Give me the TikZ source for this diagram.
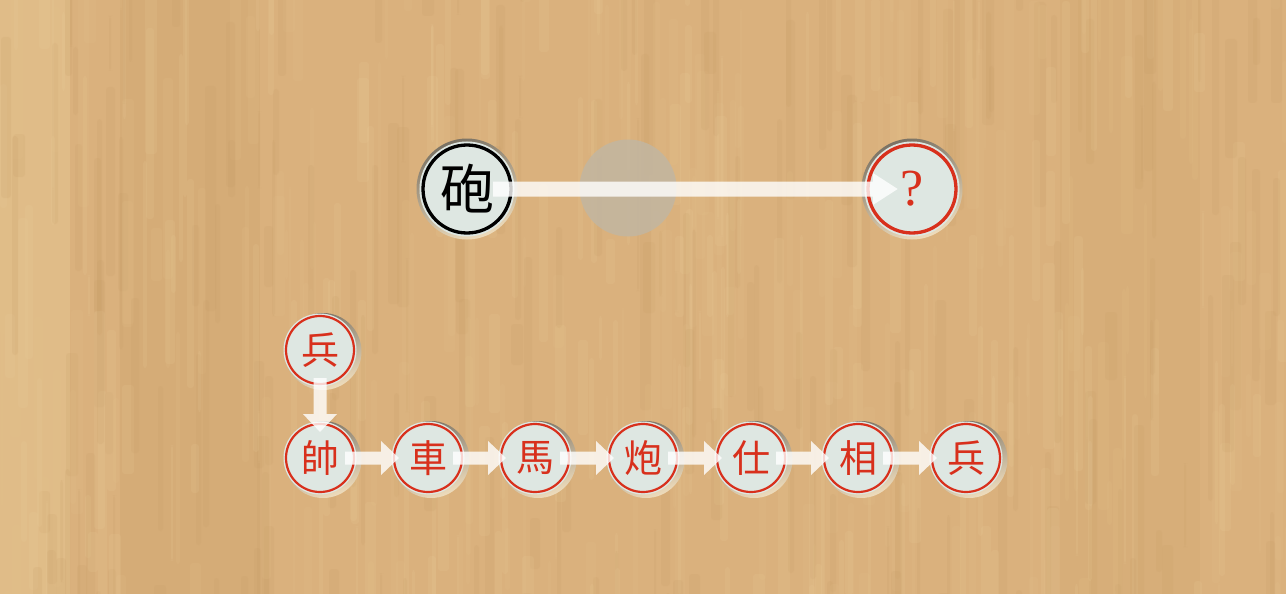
\documentclass[tikz,border=0pt]{standalone}
\usepackage{fontspec}
\newfontfamily\cjk{Noto Sans CJK TC}
\newfontfamily\qfont{Liberation Serif}
\usetikzlibrary{arrows.meta,calc}
\definecolor{wood}{HTML}{DAB17D}
\definecolor{woodlight}{HTML}{EDD29F}
\definecolor{woodlighter}{HTML}{E6C48E}
\definecolor{wooddark}{HTML}{C39963}
\definecolor{face}{HTML}{DEE7E2}
\definecolor{pred}{HTML}{D8301C}
\definecolor{rimdark}{HTML}{7A7264}
\definecolor{rimlight}{HTML}{EEDCBC}
\definecolor{ghost}{HTML}{C2B6A1}
\tikzset{
  bigpiece/.style={circle, fill=face, draw=#1, line width=3.3pt, minimum size=88pt, inner sep=0pt,
    preaction={draw=face, line width=7pt}, font=\cjk\fontsize{54}{54}\selectfont},
  smallpiece/.style={circle, fill=face, draw=pred, line width=2.2pt, minimum size=68pt, inner sep=0pt,
    preaction={draw=face, line width=5pt}, text=pred, font=\cjk\fontsize{38}{38}\selectfont},
  rim/.style={top color=rimdark, bottom color=rimlight, shading angle=20},
  bigarrow/.style={white, line width=15pt, -{Triangle[length=25pt,width=30pt]}},
  smallarrow/.style={white, line width=13pt, -{Triangle[length=18pt,width=33pt]}}
}
\begin{document}
\begin{tikzpicture}[x=1pt,y=-1pt]
\useasboundingbox (0,0) rectangle (1286,594);
\fill[wood] (0,0) rectangle (1286,594);
\fill[woodlight, opacity=0.35] (0,0) rectangle (70,594);
\fill[wooddark, opacity=0.2] (120,0) rectangle (260,594);
\fill[wooddark, opacity=0.12] (1060,0) rectangle (1200,594);
\pgfmathsetseed{11}
\foreach \i in {1,...,600}{
  \pgfmathsetmacro\xx{random(0,1286)}
  \pgfmathsetmacro\yy{random(-150,594)}
  \pgfmathsetmacro\ll{random(40,240)}
  \pgfmathsetmacro\ww{random(2,12)}
  \pgfmathtruncatemacro\cc{random(0,2)}
  \ifnum\cc=0 \def\col{woodlight}\else\ifnum\cc=1 \def\col{wooddark}\else\def\col{woodlighter}\fi\fi
  \fill[\col, opacity=0.14, rounded corners=3pt] (\xx,\yy) rectangle ++(\ww,\ll);
}
% positions
\coordinate (cpao) at (467,189);
\coordinate (cq) at (912,189);
\coordinate (cb0) at (320,350);
\coordinate (c1) at (320,458);
\coordinate (c2) at (428,458);
\coordinate (c3) at (535,458);
\coordinate (c4) at (643,458);
\coordinate (c5) at (751,458);
\coordinate (c6) at (858,458);
\coordinate (c7) at (966,458);
% ghost
\fill[ghost, opacity=0.85] (628,188) circle (48.5);
% rims / shadows
\foreach \p in {cpao,cq}{ \shade[rim] (\p) circle (50.5); }
\foreach \p in {cb0,c1,c2,c3,c4,c5,c6,c7}{ \shade[rim] ($(\p)+(3,1.5)$) circle (38.5); }
% pieces
\node[bigpiece=black] (pao) at (cpao) {砲};
\node[bigpiece=pred, text=pred, font=\qfont\fontsize{52}{52}\selectfont] (q) at (cq) {?};
\node[smallpiece] (b0) at (cb0) {兵};
\node[smallpiece] (s1) at (c1) {帥};
\node[smallpiece] (s2) at (c2) {車};
\node[smallpiece] (s3) at (c3) {馬};
\node[smallpiece] (s4) at (c4) {炮};
\node[smallpiece] (s5) at (c5) {仕};
\node[smallpiece] (s6) at (c6) {相};
\node[smallpiece] (s7) at (c7) {兵};
% arrows
\begin{scope}[transparency group, opacity=0.8]
\draw[bigarrow, shorten <=26pt, shorten >=14pt] (pao.center) -- (q.center);
\draw[smallarrow, shorten <=28pt, shorten >=26pt] (b0.center) -- (s1.center);
\foreach \a/\b in {s1/s2,s2/s3,s3/s4,s4/s5,s5/s6,s6/s7}{
  \draw[smallarrow, shorten <=25pt, shorten >=29pt] (\a.center) -- (\b.center);
}
\end{scope}
\end{tikzpicture}
\end{document}
